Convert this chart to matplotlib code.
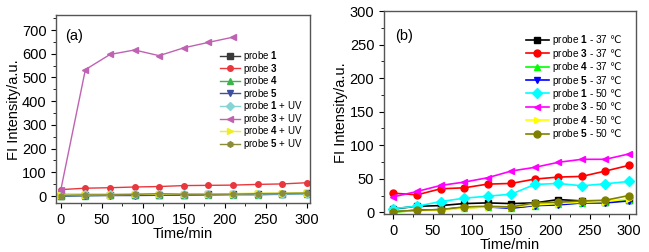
import matplotlib
matplotlib.use("Agg")
import matplotlib.pyplot as plt
from matplotlib.ticker import MultipleLocator

plt.rcParams['font.family'] = ['Liberation Sans', 'DejaVu Sans']
plt.rcParams['mathtext.fontset'] = 'custom'
plt.rcParams['mathtext.rm'] = 'Liberation Sans'
plt.rcParams['mathtext.bf'] = 'Liberation Sans:bold'
plt.rcParams['mathtext.sf'] = 'DejaVu Sans'

# ---- data panel (a) ----
time_a = [0, 30, 60, 90, 120, 150, 180, 210, 240, 270, 300]
time_a_uv3 = [0, 30, 60, 90, 120, 150, 180, 210]
a_probe1 = [2, 3, 4, 5, 5, 6, 7, 8, 9, 10, 12]
a_probe3 = [27, 33, 35, 38, 40, 44, 45, 46, 49, 51, 56]
a_probe4 = [0, 2, 3, 4, 4, 5, 5, 6, 6, 8, 10]
a_probe5 = [0, 1, 2, 2, 3, 4, 5, 6, 6, 7, 8]
a_probe1_uv = [8, 8, 8, 8, 8, 9, 9, 9, 9, 9, 8]
a_probe3_uv = [25, 533, 597, 616, 592, 625, 648, 670]
a_probe4_uv = [3, 5, 6, 7, 8, 8, 9, 10, 12, 12, 13]
a_probe5_uv = [2, 5, 5, 7, 10, 7, 7, 8, 10, 11, 12]

# ---- data panel (b) ----
time_b = [0, 30, 60, 90, 120, 150, 180, 210, 240, 270, 300]
b_probe1_37 = [5, 9, 10, 13, 14, 13, 14, 19, 17, 16, 18]
b_probe3_37 = [28.5, 26, 35, 36.5, 42, 43, 49.5, 52.5, 53.5, 61.5, 70]
b_probe4_37 = [0, 3, 4, 7, 8, 7, 10, 12, 14, 15, 18]
b_probe5_37 = [1, 3, 4, 7, 8, 6, 10, 11, 14, 14, 17]
b_probe1_50 = [5.5, 9, 16, 21, 24, 27, 41.5, 43, 39.5, 42.5, 46]
b_probe3_50 = [23, 31, 40, 45, 51.5, 61.5, 67, 74.5, 79, 79, 87]
b_probe4_50 = [1, 2, 3, 6, 8, 8, 11, 13, 15, 16, 20]
b_probe5_50 = [1, 3, 4, 8, 9, 8, 14, 15, 17, 18, 25]

fig = plt.figure(figsize=(6.49, 2.52), dpi=100)
axa = fig.add_axes([0.0868, 0.193, 0.4777 - 0.0868, 0.939 - 0.193])
axb = fig.add_axes([0.5917, 0.1496, 0.98 - 0.5917, 0.956 - 0.1496])

series_a = [
    (time_a, a_probe1, '#3a3a3a', 's', r'probe $\mathbf{1}$'),
    (time_a, a_probe3, '#e8383d', 'o', r'probe $\mathbf{3}$'),
    (time_a, a_probe4, '#3cb44b', '^', r'probe $\mathbf{4}$'),
    (time_a, a_probe5, '#3d4f9e', 'v', r'probe $\mathbf{5}$'),
    (time_a, a_probe1_uv, '#86d4d4', 'D', r'probe $\mathbf{1}$ + UV'),
    (time_a_uv3, a_probe3_uv, '#c062b2', '<', r'probe $\mathbf{3}$ + UV'),
    (time_a, a_probe4_uv, '#eeee22', '>', r'probe $\mathbf{4}$ + UV'),
    (time_a, a_probe5_uv, '#8b8b3c', 'h', r'probe $\mathbf{5}$ + UV'),
]
for x, y, c, m, lab in series_a:
    axa.plot(x, y, color=c, marker=m, markersize=4, linewidth=1.0, label=lab)

deg = r'$\mathsf{℃}$'
series_b = [
    (b_probe1_37, '#000000', 's', r'probe $\mathbf{1}$ - 37 ' + deg),
    (b_probe3_37, '#ff0000', 'o', r'probe $\mathbf{3}$ - 37 ' + deg),
    (b_probe4_37, '#00ff00', '^', r'probe $\mathbf{4}$ - 37 ' + deg),
    (b_probe5_37, '#0000ff', 'v', r'probe $\mathbf{5}$ - 37 ' + deg),
    (b_probe1_50, '#00ffff', 'D', r'probe $\mathbf{1}$ - 50 ' + deg),
    (b_probe3_50, '#ff00ff', '<', r'probe $\mathbf{3}$ - 50 ' + deg),
    (b_probe4_50, '#ffff00', '>', r'probe $\mathbf{4}$ - 50 ' + deg),
    (b_probe5_50, '#808000', 'o', r'probe $\mathbf{5}$ - 50 ' + deg),
]
for y, c, m, lab in series_b:
    axb.plot(time_b, y, color=c, marker=m, markersize=5, linewidth=1.2, label=lab)

for ax in (axa, axb):
    ax.xaxis.set_major_locator(MultipleLocator(50))
    ax.xaxis.set_minor_locator(MultipleLocator(25))
    ax.tick_params(which='both', direction='out', top=False, right=False, labelsize=10.5)
    ax.tick_params(which='major', length=3.5)
    ax.tick_params(which='minor', length=2)
    ax.set_xlabel('Time/min', fontsize=10.5, labelpad=0)
    ax.set_ylabel('FI Intensity/a.u.', fontsize=10.5, labelpad=1)
    for s in ax.spines.values():
        s.set_linewidth(1.0)
        s.set_color('#555555')

axa.set_xlim(-5.4, 304)
axa.set_ylim(-31, 762)
axa.yaxis.set_major_locator(MultipleLocator(100))
axa.yaxis.set_minor_locator(MultipleLocator(50))
axa.text(0.035, 0.93, '(a)', transform=axa.transAxes, fontsize=10.5, va='top', ha='left')
axa.legend(loc='upper left', bbox_to_anchor=(0.645, 0.82), frameon=False, fontsize=7,
           handlelength=2.1, handletextpad=0.3, labelspacing=-0.15, borderaxespad=0.0,
           borderpad=0.0)

axb.set_xlim(-12, 309)
axb.set_ylim(-3, 300)
axb.yaxis.set_major_locator(MultipleLocator(50))
axb.yaxis.set_minor_locator(MultipleLocator(25))
axb.text(0.045, 0.91, '(b)', transform=axb.transAxes, fontsize=10.5, va='top', ha='left')
axb.legend(loc='upper left', bbox_to_anchor=(0.563, 0.89), frameon=False, fontsize=7.3,
           handlelength=2.25, handletextpad=0.3, labelspacing=-0.06, borderaxespad=0.0,
           borderpad=0.0)

fig.savefig('out.png', dpi=100)
